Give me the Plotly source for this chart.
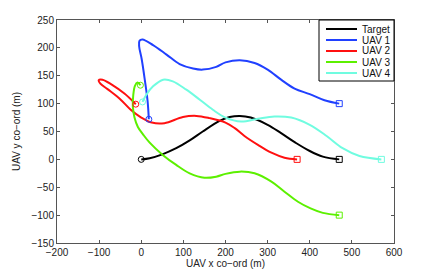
import plotly.graph_objects as go

# ---- data ----
names = ["Target", "UAV 1", "UAV 2", "UAV 3", "UAV 4"]
colors = ["#000000", "#2040ff", "#ff1010", "#5cf000", "#70fce0"]

target_x = [0, 20, 50, 83, 115, 146, 186, 210, 234, 260, 300, 332, 366, 400, 431, 470]
target_y = [0, 2, 9, 20, 34, 50, 69, 76, 78, 75, 62, 47, 30, 15, 5, 0]

uav1_x = [18, 15, 8, 1, -5, -4, 3, 28, 60, 91, 123, 146, 178, 200, 234, 269, 300, 332, 364, 400, 435, 470]
uav1_y = [72, 105, 145, 180, 203, 213, 215, 205, 188, 171, 163, 161, 166, 174, 178, 173, 161, 143, 127, 117, 106, 100]

uav2_x = [-13, -40, -70, -92, -101, -97, -80, -50, -25, 0, 25, 55, 99, 131, 162, 200, 222, 245, 277, 309, 340, 370]
uav2_y = [99, 118, 134, 143, 142, 136, 126, 108, 89, 75, 66, 65, 76, 78, 74, 66, 56, 42, 26, 12, 3, 0]

uav3_x = [-2, -9, -15, -19, -20, -16, -8, 5, 20, 51, 83, 115, 150, 178, 200, 234, 269, 309, 340, 372, 402, 431, 470]
uav3_y = [133, 138, 132, 115, 95, 75, 58, 44, 30, 8, -10, -25, -33, -31, -26, -22, -25, -40, -58, -76, -88, -96, -100]

uav4_x = [3, 12, 28, 52, 75, 107, 139, 170, 200, 237, 277, 316, 356, 400, 440, 478, 518, 570]
uav4_y = [103, 116, 131, 143, 140, 125, 107, 89, 75, 68, 73, 77, 75, 62, 42, 20, 6, 0]

x_ticks = [-200, -100, 0, 100, 200, 300, 400, 500, 600]
y_ticks = [-150, -100, -50, 0, 50, 100, 150, 200, 250]

series = [(target_x, target_y), (uav1_x, uav1_y), (uav2_x, uav2_y), (uav3_x, uav3_y), (uav4_x, uav4_y)]

fig = go.Figure()
for name, color, (xs, ys) in zip(names, colors, series):
    fig.add_trace(go.Scatter(x=xs, y=ys, mode="lines", name=name, showlegend=False,
                             line=dict(color=color, width=2, shape="spline", smoothing=1.0)))
for name, color, (xs, ys) in zip(names, colors, series):
    fig.add_trace(go.Scatter(x=[xs[0], xs[-1]], y=[ys[0], ys[-1]], mode="markers", showlegend=False,
                             marker=dict(symbol=["circle-open", "square-open"], size=6,
                                         color=color, line=dict(width=1, color=color))))

# page body has an 8px margin: work in window pixels, then shift into figure pixels
OFF = 8
FW, FH = 436 - OFF, 273 - OFF
L, T, B, R = 57, 20, 243, 394          # plot-area edges in window pixels
W, H = R - L, B - T
def px(x): return (x - L) / W
def py(y): return 1 - (y - T) / H

# ---- compact legend box (MATLAB style), in paper coordinates ----
shapes = [dict(type="rect", xref="paper", yref="paper", x0=px(319), x1=1, y0=py(81), y1=1,
               line=dict(color="#000000", width=1), fillcolor="white", layer="above")]
annotations = []
for i, (name, color) in enumerate(zip(names, colors)):
    yc = py(29 + 11 * i)
    shapes.append(dict(type="line", xref="paper", yref="paper", x0=px(326), x1=px(357),
                       y0=yc, y1=yc, line=dict(color=color, width=2), layer="above"))
    annotations.append(dict(xref="paper", yref="paper", x=px(360), y=yc, text=name,
                            showarrow=False, xanchor="left", yanchor="middle",
                            font=dict(size=10, color="#111111")))

axis_common = dict(showline=True, mirror="ticks", linecolor="#555555", linewidth=1,
                   ticks="inside", ticklen=3, tickcolor="#555555", showgrid=False,
                   zeroline=False, automargin=False, tickfont=dict(size=10, color="#222222"))

fig.update_layout(
    width=FW, height=FH,
    margin=dict(l=L - OFF, r=FW - (R - OFF), t=T - OFF, b=FH - (B - OFF), pad=0),
    paper_bgcolor="white", plot_bgcolor="white",
    font=dict(family="Liberation Sans, Arial, sans-serif", size=10, color="#222222"),
    xaxis=dict(range=[-200, 600], tickvals=x_ticks, title=dict(text="UAV x co−ord (m)", standoff=2, font=dict(size=10)), **axis_common),
    yaxis=dict(range=[-150, 250], tickvals=y_ticks, title=dict(text="UAV y co−ord (m)", standoff=8, font=dict(size=10)), **axis_common),
    shapes=shapes, annotations=annotations,
    showlegend=False,
)

fig.write_html("out.html")
